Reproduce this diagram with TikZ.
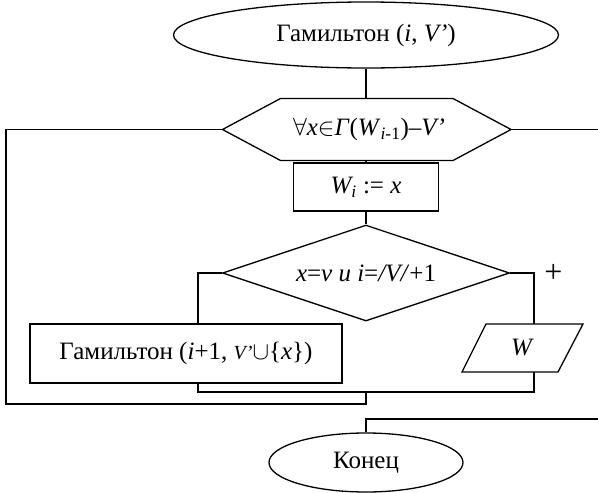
\documentclass[tikz,border=0pt]{standalone}
\usepackage{fontspec}
\setmainfont{Liberation Serif}
\usetikzlibrary{shapes.geometric,calc}
\begin{document}
\begin{tikzpicture}[x=1pt,y=-1pt,
  every node/.style={font=\fontsize{25}{30}\selectfont},
  line/.style={line width=1.3pt},
  term/.style={ellipse,draw,line width=1.3pt,inner sep=0pt},
  proc/.style={rectangle,draw,line width=1.3pt,inner sep=0pt},
  decis/.style={diamond,draw,line width=1.3pt,inner sep=0pt,aspect=2.99},
  plain/.style={inner sep=0pt}]
\useasboundingbox (0,0) rectangle (598,493);

% start terminal
\node[term,minimum width=385pt,minimum height=66pt] (start) at (366,35)
  {Гамильтон (\textit{i}, \textit{V’})};

% loop header (hexagon)
\node[plain] (loop) at (369,129.5)
  {$\forall$\textit{x}$\in$\textit{Γ}(\textit{W}\textsubscript{\textit{i}-1})–\textit{V’}};
\draw[line] (366,129.5) ++(-143.5,0) coordinate (loopW)
  -- ++(58,-31) -- ++(172.5,0) -- ++(58,31) coordinate (loopE)
  -- ++(-58,31) -- ++(-172.5,0) -- cycle;
\coordinate (loopN) at (366,98.5);
\coordinate (loopS) at (366,160.5);

% assignment
\node[proc,minimum width=145pt,minimum height=48pt] (assign) at (366,187)
  {\textit{W\textsubscript{i}} := \textit{x}};

% condition
\node[decis,minimum width=287pt,minimum height=96pt] (cond) at (366,273)
  {\textit{x}=\textit{v и i}=\textit{/V/}+1};

% recursive call
\node[proc,minimum width=312pt,minimum height=59pt] (call) at (186,353.5)
  {Гамильтон (\textit{i}+1, {\fontsize{20}{24}\selectfont\textit{V’}}$\cup$\{\textit{x}\})};

% output (parallelogram)
\node[plain] (out) at (522.5,348) {\textit{W}};
\draw[line] ($(out)+(-36.5,-24)$) -- ++(97,0) -- ++(-25,48) -- ++(-96,0) -- cycle;
\coordinate (outN) at (534,324);
\coordinate (outS) at (534,372);

% end terminal
\node[term,minimum width=194pt,minimum height=59pt] (stop) at (366,462.5) {Конец};

% branch label
\node[plain,font=\fontsize{32}{36}\selectfont] (plus) at (553.5,273.5) {+};

% helper coordinates for the wiring
\coordinate (join) at (366,392);
\coordinate (exitE) at (598,129.5);
\coordinate (back) at (598,419);

% connectors
\draw[line] (start.south) -- (loopN);
\draw[line] (loopS) -- (assign.north);
\draw[line] (assign.south) -- (cond.north);
\draw[line] (cond.west) -| (call.north -| 198,0);
\draw[line] (cond.east) -| (outN);
\draw[line] (call.south -| 198,0) |- (join) -- (join -| outS) -- (outS);
\draw[line] (loopW) -| (6,404) -| (join);
\draw[line] (loopE) -- (exitE);
\draw[line] (back) -| (stop.north);
\end{tikzpicture}
\end{document}
